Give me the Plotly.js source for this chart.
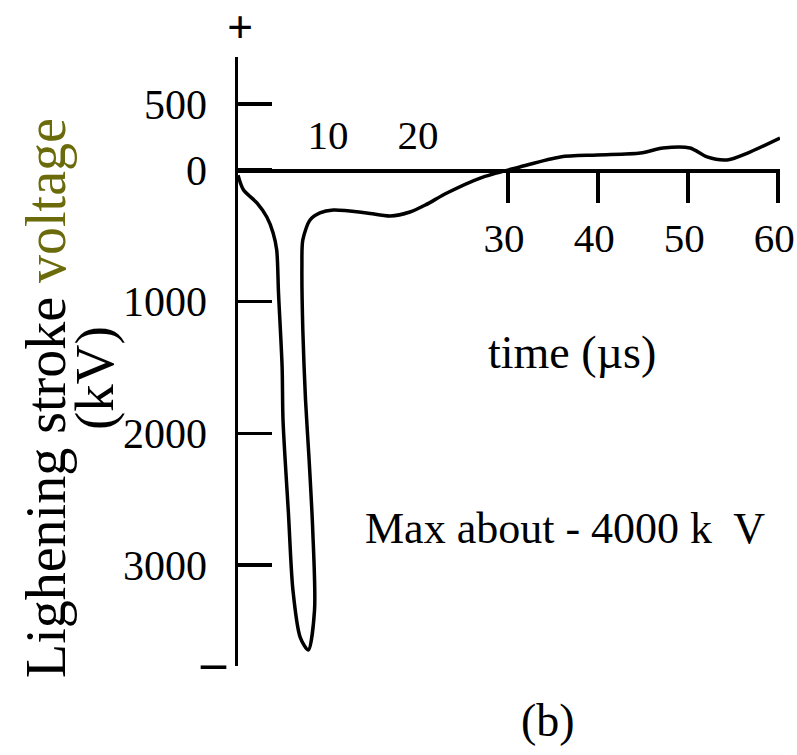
<!DOCTYPE html>
<html>
<head>
<meta charset="utf-8">
<script src="https://cdn.plot.ly/plotly-3.0.1.min.js"></script>
<style>html,body{margin:0;padding:0;background:#fff;}#chart{width:797px;height:755px;}</style>
</head>
<body>
<div id="chart"></div>
<script>
// Data (time in microseconds, voltage in kV, negative = downward)
var timeUs = [0, 0.6, 2.1, 3.2, 3.9, 4.3, 4.5, 4.9, 5.0, 5.6, 6.1, 6.9, 7.8, 8.5, 8.3, 7.9, 7.5, 7.2, 7.1, 7.2, 8.0, 9.1, 10.6, 14.3, 16.9, 19.1, 20.8, 23.2, 26.9, 31.3, 35.8, 39.9, 44.7, 47.2, 50.2, 52.1, 54.3, 56.6, 60.2];
var voltageKv = [-40, -150, -250, -357, -478, -608, -934, -1496, -1900, -2604, -3189, -3546, -3645, -3341, -2733, -2202, -1746, -1215, -737, -531, -380, -326, -304, -326, -349, -319, -266, -175, -61, 23, 99, 114, 129, 167, 167, 99, 76, 129, 243];

var xTicksBelow = [30, 40, 50, 60];
var xTicksAbove = [10, 20];
var yTickVals = [500, 0, -1000, -2000, -3000];
var yTickText = ['500', '0', '1000', '2000', '3000'];

var serif = 'Liberation Serif, Times New Roman, serif';
var xRange = [0, 60.2];
var yRange = [-3766, 858];
var zeroPos = (0 - yRange[0]) / (yRange[1] - yRange[0]);

var trace = {
  x: timeUs, y: voltageKv, type: 'scatter', mode: 'lines',
  line: {color: '#000', width: 3.5, shape: 'spline', smoothing: 0.8},
  cliponaxis: false, hoverinfo: 'skip'
};
var dummy = {x: [0], y: [0], xaxis: 'x2', type: 'scatter', mode: 'markers', marker: {opacity: 0}, hoverinfo: 'skip'};

var W = 797, H = 755, mL = 238, mR = 17, mT = 57, mB = 89;
var pw = W - mL - mR, ph = H - mT - mB;
function px(x) { return (x - mL) / pw; }
function py(y) { return (H - mB - y) / ph; }

var layout = {
  width: W, height: H,
  margin: {l: mL, r: mR, t: mT, b: mB, pad: 0},
  paper_bgcolor: '#fff', plot_bgcolor: '#fff',
  showlegend: false,
  font: {family: serif, color: '#000'},
  xaxis: {
    range: xRange, anchor: 'free', position: zeroPos,
    tickvals: xTicksBelow, ticks: 'outside', ticklen: 30, tickwidth: 3.5, tickcolor: '#000',
    showline: true, linewidth: 3.5, linecolor: '#000',
    showgrid: false, zeroline: false, ticklabelstandoff: 0, ticklabeloverflow: 'allow',
    ticklabelshift: -4,
    tickfont: {family: serif, size: 41, color: '#000'}
  },
  xaxis2: {
    range: xRange, overlaying: 'x', side: 'top', anchor: 'free', position: zeroPos,
    tickvals: xTicksAbove, ticks: '', showline: false, showgrid: false, zeroline: false,
    ticklabelstandoff: 13, ticklabeloverflow: 'allow',
    tickfont: {family: serif, size: 41, color: '#000'}
  },
  yaxis: {
    range: yRange, tickvals: yTickVals, ticktext: yTickText,
    ticks: 'inside', ticklen: 34, tickwidth: 3.5, tickcolor: '#000',
    showline: true, linewidth: 3.5, linecolor: '#000',
    showgrid: false, zeroline: false, ticklabelstandoff: 19,
    tickfont: {family: serif, size: 42, color: '#000'}
  },
  annotations: [
    {xref: 'paper', yref: 'paper', x: px(46), y: py(398), xanchor: 'center', yanchor: 'middle', textangle: -90, showarrow: false,
     text: 'Lighening stroke <span style="color:#6b6b0c">voltage</span>', font: {family: serif, size: 56, color: '#000'}},
    {xref: 'paper', yref: 'paper', x: px(94), y: py(378), xanchor: 'center', yanchor: 'middle', textangle: -90, showarrow: false,
     text: '(kV)', font: {family: serif, size: 55, color: '#000'}},
    {xref: 'paper', yref: 'paper', x: px(240), y: py(28), xanchor: 'center', yanchor: 'middle', showarrow: false,
     text: '<b>+</b>', font: {family: serif, size: 46, color: '#000'}},
    {xref: 'paper', yref: 'paper', x: px(213), y: py(662), xanchor: 'center', yanchor: 'middle', showarrow: false,
     text: '<b>–</b>', font: {family: serif, size: 50, color: '#000'}},
    {xref: 'paper', yref: 'paper', x: px(572), y: py(352), xanchor: 'center', yanchor: 'middle', showarrow: false,
     text: 'time (µs)', font: {family: serif, size: 46, color: '#000'}},
    {xref: 'paper', yref: 'paper', x: px(565), y: py(528), xanchor: 'center', yanchor: 'middle', showarrow: false,
     text: 'Max about - 4000 k  V', font: {family: serif, size: 44, color: '#000'}},
    {xref: 'paper', yref: 'paper', x: px(548), y: py(720), xanchor: 'center', yanchor: 'middle', showarrow: false,
     text: '(b)', font: {family: serif, size: 46, color: '#000'}}
  ]
};

Plotly.newPlot('chart', [trace, dummy], layout, {staticPlot: true, displayModeBar: false});
</script>
</body>
</html>
